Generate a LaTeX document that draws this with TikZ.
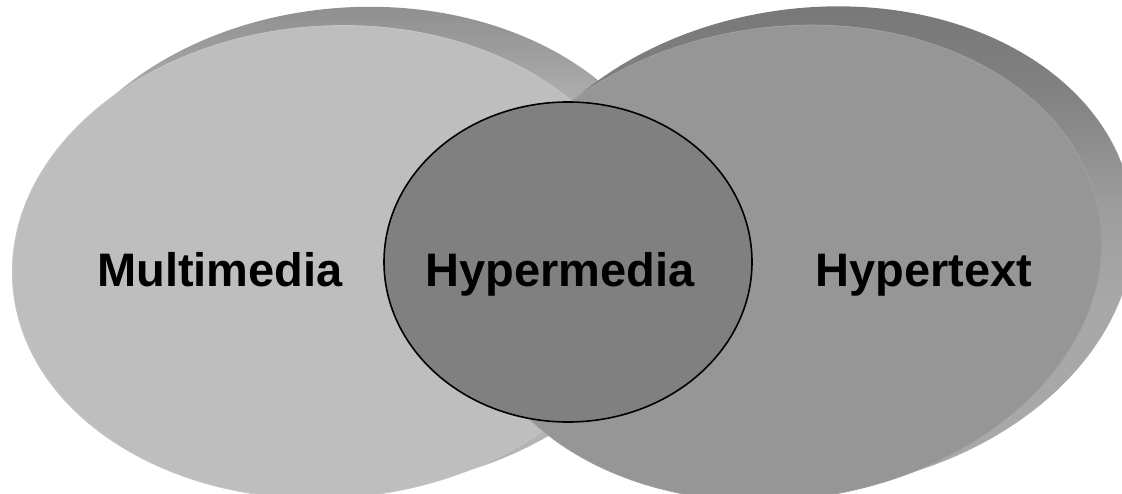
\documentclass[tikz,border=0pt]{standalone}
\usepackage{fontspec}
\setmainfont{Liberation Sans}

% face colours
\definecolor{faceL}{HTML}{BEBEBE}
\definecolor{edgeL}{HTML}{C6C6C6}
\definecolor{faceR}{HTML}{969696}
\definecolor{edgeR}{HTML}{A0A0A0}
\definecolor{core}{HTML}{808080}
% rim colours (the thickness of each disc)
\definecolor{rimLa}{HTML}{8C8C8C}
\definecolor{rimLb}{HTML}{9C9C9C}
\definecolor{rimLc}{HTML}{AAAAAA}
\definecolor{rimLd}{HTML}{B4B4B4}
\definecolor{rimRa}{HTML}{767676}
\definecolor{rimRb}{HTML}{808080}
\definecolor{rimRc}{HTML}{8E8E8E}
\definecolor{rimRd}{HTML}{9C9C9C}
\definecolor{rimRe}{HTML}{A8A8A8}

\pgfdeclareverticalshading{rimL}{100bp}{color(0bp)=(rimLd); color(25bp)=(rimLd); color(62bp)=(rimLd); color(66bp)=(rimLc); color(70bp)=(rimLb); color(75bp)=(rimLa); color(100bp)=(rimLa)}
\pgfdeclareverticalshading{rimR}{100bp}{color(0bp)=(rimRe); color(25bp)=(rimRe); color(45bp)=(rimRe); color(55bp)=(rimRd); color(60bp)=(rimRc); color(66bp)=(rimRb); color(75bp)=(rimRa); color(100bp)=(rimRa)}

\begin{document}
\begin{tikzpicture}[x=1pt,y=1pt,
  lbl/.style={font=\fontsize{47}{56}\selectfont\bfseries, text=black, inner sep=0pt, anchor=base}]
\useasboundingbox (0,0) rectangle (1122,493);
\clip (0,0) rectangle (1122,493);

% left disc: rim swept from the face to the back, then the face
\path[shading=rimL] \foreach \k in {0,...,12}{
  ({330+26*\k/12},{231+14*\k/12}) ellipse [x radius={318*(1+0.02*\k/12)}, y radius={236*(1+0.02*\k/12)}, rotate=4] };
\filldraw[fill=faceL, draw=edgeL, line width=0.8pt] (330,231) ellipse [x radius=318, y radius=236, rotate=4];

% right disc
\path[shading=rimR] \foreach \k in {0,...,12}{
  ({785+26*\k/12},{230+14*\k/12}) ellipse [x radius={318*(1+0.02*\k/12)}, y radius={236*(1+0.02*\k/12)}, rotate=8] };
\filldraw[fill=faceR, draw=edgeR, line width=0.8pt] (785,230) ellipse [x radius=318, y radius=236, rotate=8];

% overlap
\filldraw[fill=core, draw=black, line width=1.6pt] (568,231) ellipse [x radius=184, y radius=160];

\node[lbl] (multi) at (220,206) {Multimedia};
\node[lbl] (hyperm) at (560,206) {Hypermedia};
\node[lbl] (hypert) at (924,206) {Hypertext};
\end{tikzpicture}
\end{document}
